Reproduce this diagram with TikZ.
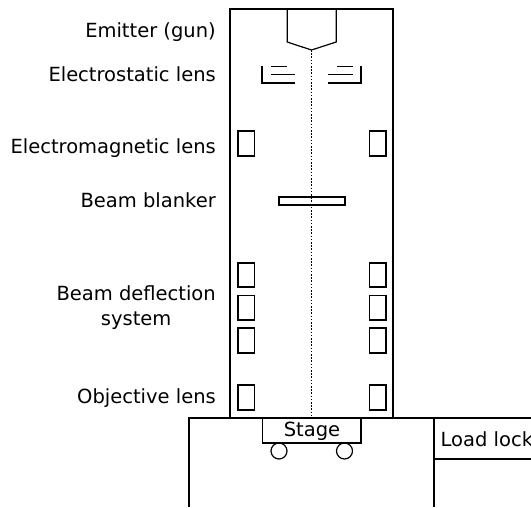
\documentclass[tikz,border=0pt]{standalone}
\usepackage{fontspec}
\setmainfont{DejaVu Sans}
\tikzset{
  part/.style={draw=black,line width=1.2pt,line join=miter},
  lbl/.style={anchor=base east,inner sep=0pt,font=\fontsize{19.5}{25}\selectfont,align=center,text=black},
  beam/.style={draw=black,line width=1.8pt,dash pattern=on 1.6pt off 1.6pt}
}
\begin{document}
\begin{tikzpicture}[x=1pt,y=-1pt]
\useasboundingbox (0,0) rectangle (531,507);
% column and chamber
\draw[part] (230,418) -- (230,9) -- (393,9) -- (393,418);
\draw[part] (189,507) -- (189,418) -- (531,418);
\draw[part] (434,507) -- (434,418);
\draw[part] (434,459) -- (531,459);
% beam
\coordinate (tip) at (311.5,50);
\coordinate (beamend) at (311.5,418);
\draw[beam] (tip) -- (beamend);
% gun
\draw[part] (287.2,9) -- (287.2,42) -- (tip) -- (336.2,42) -- (336.2,9);
% electrostatic lens
\draw[part] (262,66) -- (262,83) -- (295,83);
\draw[part] (271,74.5) -- (295,74.5);
\draw[part] (271,66.5) -- (287,66.5);
\draw[part] (361,66) -- (361,83) -- (328,83);
\draw[part] (353,74.5) -- (328,74.5);
\draw[part] (353,66.5) -- (337,66.5);
% blanker
\draw[part] (279,197) rectangle (345,205);
% boxes
\foreach \t/\b in {131/156,263/287,295.5/320,328/353,385/410}{
  \draw[part] (238,\t) rectangle (254.5,\b);
  \draw[part] (369.5,\t) rectangle (386,\b);
}
% stage
\draw[part] (262.5,418) -- (262.5,443) -- (361,443) -- (361,418);
\node[draw=black,line width=1.2pt,circle,minimum size=16pt,inner sep=0pt] (w1) at (279,451) {};
\node[draw=black,line width=1.2pt,circle,minimum size=16pt,inner sep=0pt] (w2) at (344.5,451) {};
\node[lbl,anchor=base] (stage) at (312,436) {Stage};
\node[lbl,anchor=base west] (load) at (440.5,446) {Load lock};
% labels
\node[lbl] (l1) at (216,37) {Emitter (gun)};
\node[lbl] (l2) at (216,81) {Electrostatic lens};
\node[lbl] (l3) at (216,153) {Electromagnetic lens};
\node[lbl] (l4) at (216,207) {Beam blanker};
\node[lbl,anchor=east] (l5) at (216,307.5) {Beam deflection\\system};
\node[lbl] (l6) at (216,403) {Objective lens};
\end{tikzpicture}
\end{document}
